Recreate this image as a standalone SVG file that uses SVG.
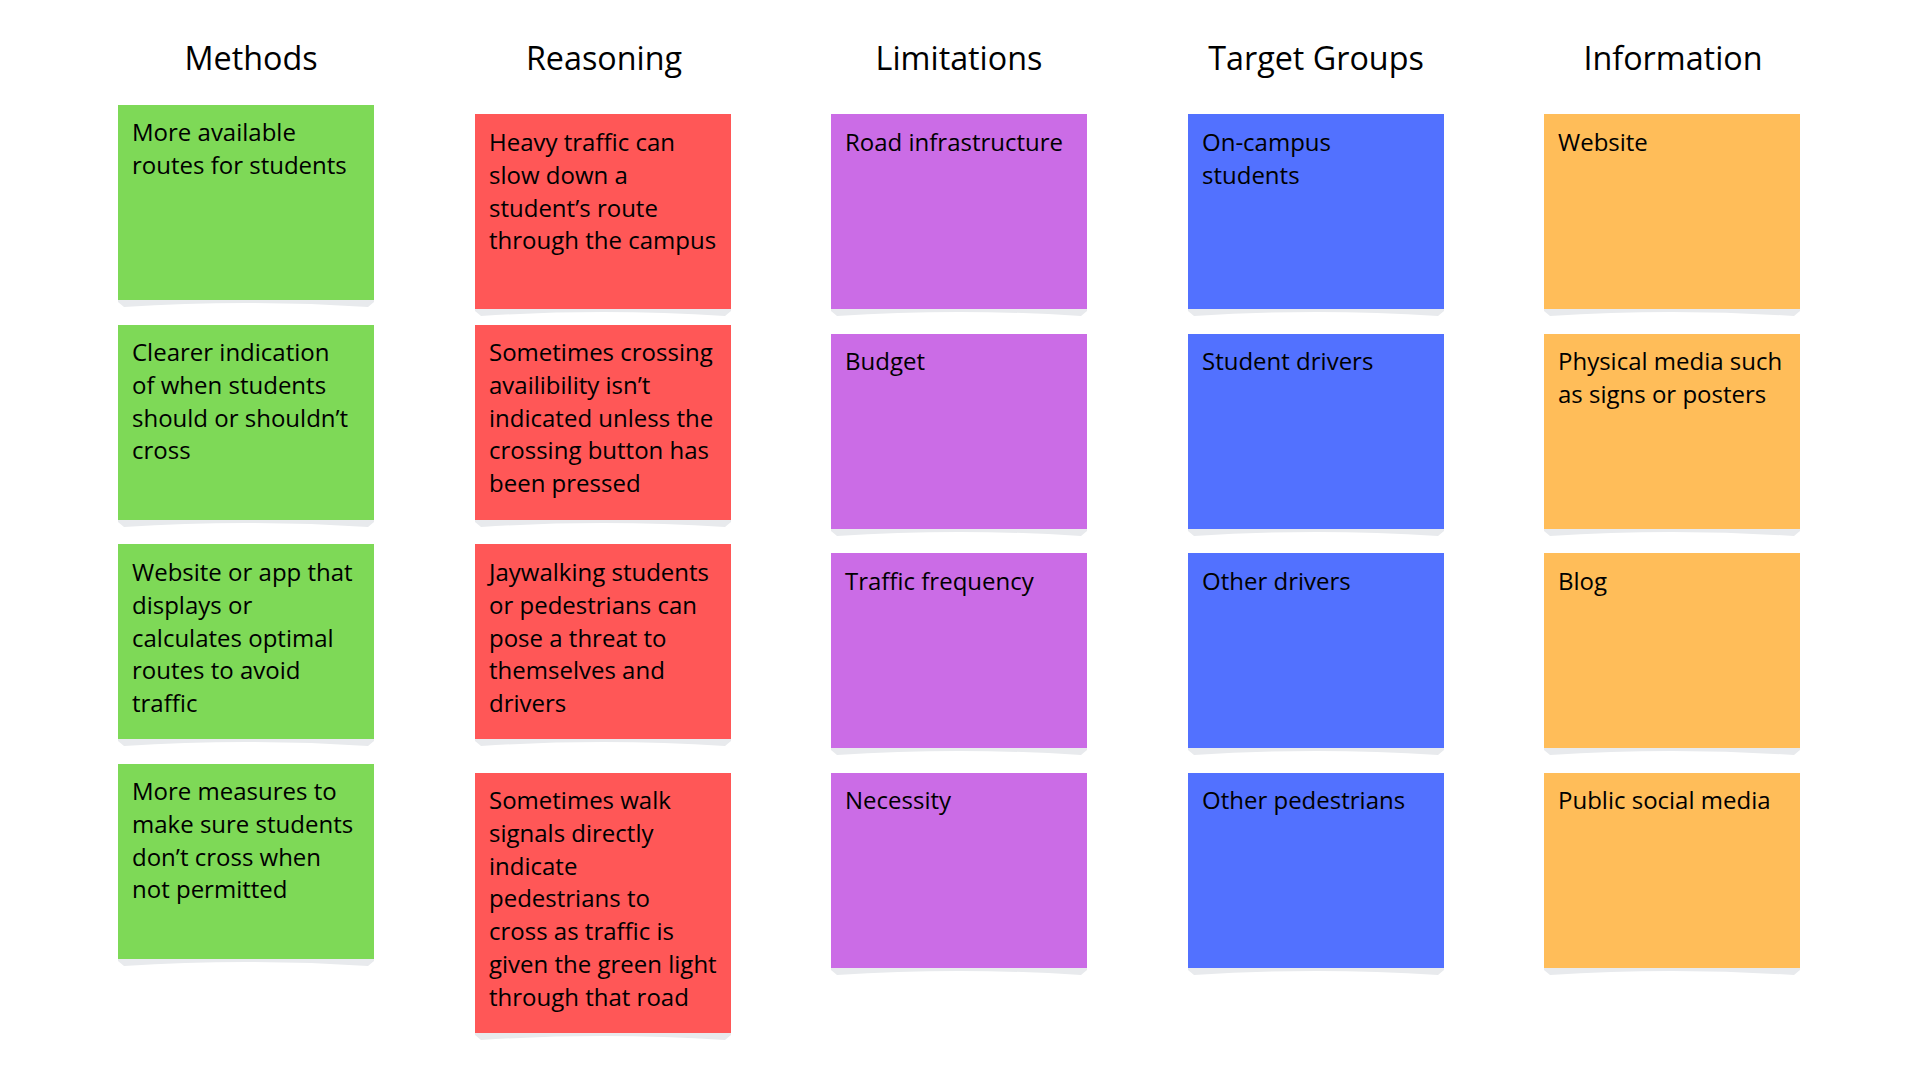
<svg xmlns="http://www.w3.org/2000/svg" width="1920" height="1080" viewBox="0 0 1920 1080">
<style>
.hdr{font-family:"Open Sans","Liberation Sans",sans-serif;font-size:32.3px;fill:#000;text-anchor:middle}
.t{font-family:"Open Sans","Liberation Sans",sans-serif;font-size:24px;fill:#000}
.sh{fill:#e8eaed}
.g{fill:#7ed957}.r{fill:#ff5757}.p{fill:#cb6ce6}.b{fill:#5271ff}.o{fill:#ffbd59}
</style>
<defs>
<path id="shadow" d="M0,0 L256,0 L256,2 L250,7 Q128,-1 6,7 L0,2 Z"/>
</defs>
<rect width="1920" height="1080" fill="#fff"/>
<g id="headers">
<text class="hdr" x="251" y="70">Methods</text>
<text class="hdr" x="604" y="70">Reasoning</text>
<text class="hdr" x="959" y="70">Limitations</text>
<text class="hdr" x="1316" y="70">Target Groups</text>
<text class="hdr" x="1673" y="70">Information</text>
</g>

<g id="m1"><use href="#shadow" class="sh" x="118" y="300"/><rect class="g" x="118" y="105" width="256" height="195"/>
<text class="t" y="141"><tspan x="132">More available</tspan><tspan x="132" dy="32.8">routes for students</tspan></text></g>
<g id="m2"><use href="#shadow" class="sh" x="118" y="520"/><rect class="g" x="118" y="325" width="256" height="195"/>
<text class="t" y="361"><tspan x="132">Clearer indication</tspan><tspan x="132" dy="32.8">of when students</tspan><tspan x="132" dy="32.8">should or shouldn’t</tspan><tspan x="132" dy="32.8">cross</tspan></text></g>
<g id="m3"><use href="#shadow" class="sh" x="118" y="739"/><rect class="g" x="118" y="544" width="256" height="195"/>
<text class="t" y="581"><tspan x="132">Website or app that</tspan><tspan x="132" dy="32.8">displays or</tspan><tspan x="132" dy="32.8">calculates optimal</tspan><tspan x="132" dy="32.8">routes to avoid</tspan><tspan x="132" dy="32.8">traffic</tspan></text></g>
<g id="m4"><use href="#shadow" class="sh" x="118" y="959"/><rect class="g" x="118" y="764" width="256" height="195"/>
<text class="t" y="800"><tspan x="132">More measures to</tspan><tspan x="132" dy="32.8">make sure students</tspan><tspan x="132" dy="32.8">don’t cross when</tspan><tspan x="132" dy="32.8">not permitted</tspan></text></g>

<g id="r1"><use href="#shadow" class="sh" x="475" y="309"/><rect class="r" x="475" y="114" width="256" height="195"/>
<text class="t" y="151"><tspan x="489">Heavy traffic can</tspan><tspan x="489" dy="32.8">slow down a</tspan><tspan x="489" dy="32.8">student’s route</tspan><tspan x="489" dy="32.8">through the campus</tspan></text></g>
<g id="r2"><use href="#shadow" class="sh" x="475" y="520"/><rect class="r" x="475" y="325" width="256" height="195"/>
<text class="t" y="361"><tspan x="489">Sometimes crossing</tspan><tspan x="489" dy="32.8">availibility isn’t</tspan><tspan x="489" dy="32.8">indicated unless the</tspan><tspan x="489" dy="32.8">crossing button has</tspan><tspan x="489" dy="32.8">been pressed</tspan></text></g>
<g id="r3"><use href="#shadow" class="sh" x="475" y="739"/><rect class="r" x="475" y="544" width="256" height="195"/>
<text class="t" y="581"><tspan x="489">Jaywalking students</tspan><tspan x="489" dy="32.8">or pedestrians can</tspan><tspan x="489" dy="32.8">pose a threat to</tspan><tspan x="489" dy="32.8">themselves and</tspan><tspan x="489" dy="32.8">drivers</tspan></text></g>
<g id="r4"><use href="#shadow" class="sh" x="475" y="1033"/><rect class="r" x="475" y="773" width="256" height="260"/>
<text class="t" y="809"><tspan x="489">Sometimes walk</tspan><tspan x="489" dy="32.8">signals directly</tspan><tspan x="489" dy="32.8">indicate</tspan><tspan x="489" dy="32.8">pedestrians to</tspan><tspan x="489" dy="32.8">cross as traffic is</tspan><tspan x="489" dy="32.8">given the green light</tspan><tspan x="489" dy="32.8">through that road</tspan></text></g>

<g id="l1"><use href="#shadow" class="sh" x="831" y="309"/><rect class="p" x="831" y="114" width="256" height="195"/>
<text class="t" x="845" y="151">Road infrastructure</text></g>
<g id="l2"><use href="#shadow" class="sh" x="831" y="529"/><rect class="p" x="831" y="334" width="256" height="195"/>
<text class="t" x="845" y="370">Budget</text></g>
<g id="l3"><use href="#shadow" class="sh" x="831" y="748"/><rect class="p" x="831" y="553" width="256" height="195"/>
<text class="t" x="845" y="590">Traffic frequency</text></g>
<g id="l4"><use href="#shadow" class="sh" x="831" y="968"/><rect class="p" x="831" y="773" width="256" height="195"/>
<text class="t" x="845" y="809">Necessity</text></g>

<g id="t1"><use href="#shadow" class="sh" x="1188" y="309"/><rect class="b" x="1188" y="114" width="256" height="195"/>
<text class="t" y="151"><tspan x="1202">On-campus</tspan><tspan x="1202" dy="32.8">students</tspan></text></g>
<g id="t2"><use href="#shadow" class="sh" x="1188" y="529"/><rect class="b" x="1188" y="334" width="256" height="195"/>
<text class="t" x="1202" y="370">Student drivers</text></g>
<g id="t3"><use href="#shadow" class="sh" x="1188" y="748"/><rect class="b" x="1188" y="553" width="256" height="195"/>
<text class="t" x="1202" y="590">Other drivers</text></g>
<g id="t4"><use href="#shadow" class="sh" x="1188" y="968"/><rect class="b" x="1188" y="773" width="256" height="195"/>
<text class="t" x="1202" y="809">Other pedestrians</text></g>

<g id="i1"><use href="#shadow" class="sh" x="1544" y="309"/><rect class="o" x="1544" y="114" width="256" height="195"/>
<text class="t" x="1558" y="151">Website</text></g>
<g id="i2"><use href="#shadow" class="sh" x="1544" y="529"/><rect class="o" x="1544" y="334" width="256" height="195"/>
<text class="t" y="370"><tspan x="1558">Physical media such</tspan><tspan x="1558" dy="32.8">as signs or posters</tspan></text></g>
<g id="i3"><use href="#shadow" class="sh" x="1544" y="748"/><rect class="o" x="1544" y="553" width="256" height="195"/>
<text class="t" x="1558" y="590">Blog</text></g>
<g id="i4"><use href="#shadow" class="sh" x="1544" y="968"/><rect class="o" x="1544" y="773" width="256" height="195"/>
<text class="t" x="1558" y="809">Public social media</text></g>

<g id="connectors"></g>
</svg>
